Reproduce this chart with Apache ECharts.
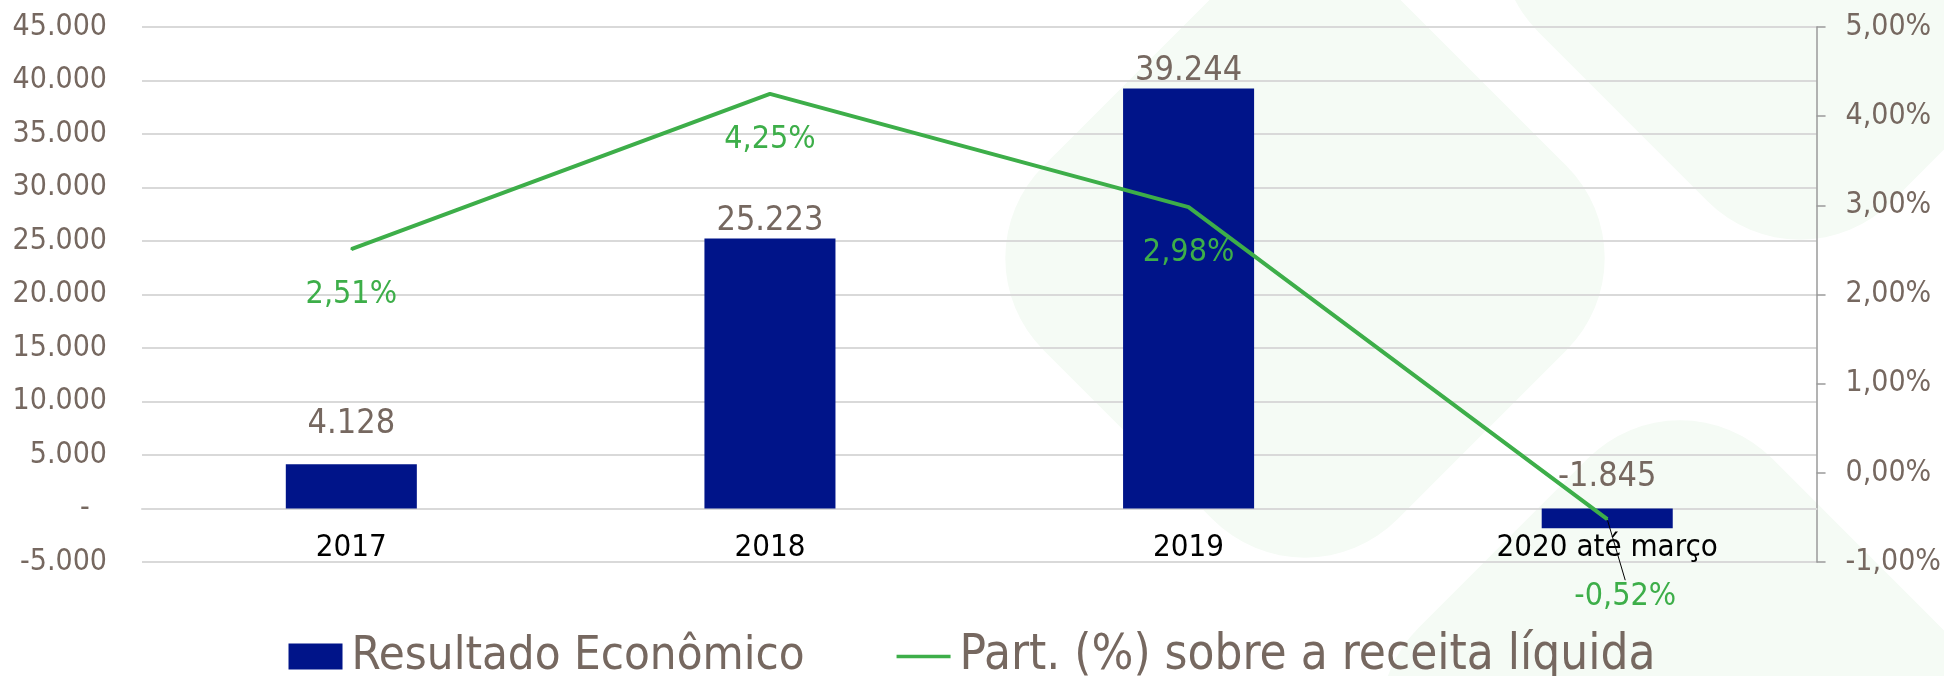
<!DOCTYPE html>
<html>
<head>
<meta charset="utf-8">
<title>Resultado Econômico</title>
<script src="https://cdn.jsdelivr.net/npm/echarts@6/dist/echarts.min.js"></script>
<style>
  html, body { margin: 0; padding: 0; background: #fff; }
  #chart { width: 1944px; height: 676px; }
</style>
</head>
<body>
<div id="chart"></div>
<script>
// dados do gráfico
const categorias = ["2017", "2018", "2019", "2020 até março"];
const resultadoEconomico = [4128, 25223, 39244, -1845];
const partReceita = [2.51, 4.25, 2.98, -0.52]; // em %

// escalas dos eixos
const eixoValor = { min: -5000, max: 45000, passo: 5000 };
const eixoPerc = { min: -1, max: 5, passo: 1 };

const FONTE = '"DejaVu Sans Condensed", "DejaVu Sans", sans-serif';
const COR_TEXTO = "#766860";
const AZUL = "#001489";
const VERDE = "#3dae49";
const MARCA = "#f5fbf5"; // marca d'agua do fundo

function milhar(v) {
  let s = String(Math.abs(v)).replace(/\B(?=(\d{3})+(?!\d))/g, ".");
  return (v < 0 ? "-" : "") + s;
}
function perc(v) {
  return v.toFixed(2).replace(".", ",") + "%";
}

// losango arredondado da marca d'agua
function losango(cx, cy, lado) {
  return {
    type: "rect",
    silent: true,
    z: -10,
    x: cx,
    y: cy,
    rotation: Math.PI / 4,
    shape: { x: -lado / 2, y: -lado / 2, width: lado, height: lado, r: 130 },
    style: { fill: MARCA }
  };
}

const chart = echarts.init(document.getElementById("chart"));

// distancia dos rotulos das barras (ajuste manual como no excel)
const distBarra = [23, 0, 0, 14];

const option = {
  animation: false,
  textStyle: { fontFamily: FONTE },
  graphic: [
    losango(1305, 258, 500),
    losango(1680, 720, 500),
    losango(1800, -60, 500)
  ],
  grid: { left: 142, right: 126, top: 27, bottom: 114 },
  legend: {
    top: 632,
    left: "center",
    itemGap: 92,
    itemWidth: 54,
    itemHeight: 26,
    padding: 0,
    textStyle: { fontFamily: FONTE, fontSize: 47, color: COR_TEXTO, padding: [0, 0, 0, 4] },
    data: [
      { name: "Resultado Econômico", icon: "rect" },
      {
        name: "Part. (%) sobre a receita líquida",
        icon: "path://M0,0H60V4H0Z",
        textStyle: { fontSize: 49 }
      }
    ]
  },
  xAxis: {
    type: "category",
    data: categorias,
    axisLine: { onZero: true, onZeroAxisIndex: 0, lineStyle: { color: "#d9d9d9", width: 2 } },
    axisTick: { show: false },
    axisLabel: { color: "#000", fontSize: 31, margin: -30, fontFamily: FONTE }
  },
  yAxis: [
    {
      type: "value",
      min: eixoValor.min,
      max: eixoValor.max,
      interval: eixoValor.passo,
      axisLine: { show: false },
      axisTick: { show: false },
      splitLine: { lineStyle: { color: "#d9d9d9", width: 2 } },
      axisLabel: {
        color: COR_TEXTO,
        fontSize: 30,
        margin: 35,
        fontFamily: FONTE,
        formatter: function (v) { return v === 0 ? "-  " : milhar(v); }
      }
    },
    {
      type: "value",
      min: eixoPerc.min,
      max: eixoPerc.max,
      interval: eixoPerc.passo,
      position: "right",
      axisLine: { show: true, lineStyle: { color: "#9a9a9a", width: 1.5 } },
      axisTick: { show: true, length: 9, lineStyle: { color: "#9a9a9a", width: 1.5 } },
      splitLine: { show: false },
      axisLabel: {
        color: COR_TEXTO,
        fontSize: 30,
        margin: 29,
        fontFamily: FONTE,
        formatter: perc
      }
    }
  ],
  series: [
    {
      name: "Resultado Econômico",
      type: "bar",
      yAxisIndex: 0,
      barWidth: "31.3%",
      itemStyle: { color: AZUL },
      data: resultadoEconomico.map(function (v, i) {
        return { value: v, label: { distance: distBarra[i] } };
      }),
      label: {
        show: true,
        position: "top",
        color: COR_TEXTO,
        fontSize: 34,
        fontFamily: FONTE,
        formatter: function (p) { return milhar(p.value); }
      },
      z: 2
    },
    {
      name: "Part. (%) sobre a receita líquida",
      type: "line",
      yAxisIndex: 1,
      data: partReceita.map(function (v, i) {
        return { value: v, labelLine: { show: i === partReceita.length - 1 } };
      }),
      symbol: "circle",
      symbolSize: 2,
      showSymbol: true,
      lineStyle: { color: VERDE, width: 4 },
      itemStyle: { color: VERDE },
      label: {
        show: true,
        position: "bottom",
        distance: 29,
        color: VERDE,
        fontSize: 32,
        fontFamily: FONTE,
        formatter: function (p) { return perc(p.value); }
      },
      labelLine: { show: false, lineStyle: { color: "#000", width: 1 } },
      labelLayout: function (p) {
        if (p.dataIndex === 3) return { dx: 18, dy: 31 };
        return {};
      },
      z: 3
    }
  ]
};

chart.setOption(option);
</script>
</body>
</html>
